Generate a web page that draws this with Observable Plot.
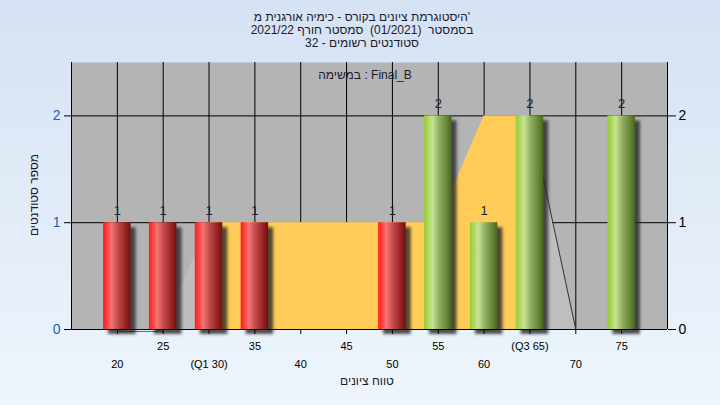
<!DOCTYPE html>
<html><head><meta charset="utf-8">
<script src="https://cdn.jsdelivr.net/npm/d3@7"></script>
<script src="https://cdn.jsdelivr.net/npm/@observablehq/plot@0.6"></script>
<style>
body{margin:0;}
#c{width:720px;height:405px;background:linear-gradient(#d5e2f3,#eef5fc);overflow:hidden;}
svg text{white-space:pre;}
</style></head>
<body><div id="c"></div>
<script>
// ---- data ----
const categories = [20,25,30,35,40,45,50,55,60,65,70,75];
const tickLabels = ["20","25","(Q1 30)","35","40","45","50","55","60","(Q3 65)","70","75"];
const areaValues = [0,0,1,1,1,1,1,1,2,2,0,0];
const barGrades = [20,25,30,35,50,55,60,65,75];
const barCounts = [1,1,1,1,1,2,1,2,2];
const barPass   = [false,false,false,false,false,true,true,true,true];
const q1 = 30, q3 = 65;
const titleLines = ["היסטוגרמת ציונים בקורס - כימיה אורגנית מ'", "בסמסטר  (01/2021)  סמסטר חורף 2021/22", "סטודנטים רשומים - 32"];
const taskLabel = "במשימה : Final_B";
const xTitle = "טווח ציונים";
const yTitle = "מספר סטודנטים";

// ---- tables ----
const area = categories.map((g,i)=>({g, v: areaValues[i]}));
const bars = barGrades.map((g,i)=>({g, n: barCounts[i], pass: barPass[i]}));
const halfW = 1.5;
const fmt = d => tickLabels[categories.indexOf(d)];
const odd = categories.filter((d,i)=>i%2===1);
const even = categories.filter((d,i)=>i%2===0);
const FONT = "'Liberation Sans', Arial, sans-serif";

const chart = Plot.plot({
  width:720, height:405,
  marginLeft:71, marginRight:53, marginTop:62, marginBottom:76,
  style:{background:"transparent", fontFamily:FONT, color:"#000"},
  x:{type:"linear", domain:[15,80]},
  y:{domain:[0,2.5]},
  marks:[
    Plot.frame({fill:"#b4b4b4", stroke:null}),
    Plot.gridX(categories, {stroke:"#000", strokeOpacity:1}),
    Plot.gridY([1,2], {stroke:"#000", strokeOpacity:1}),
    Plot.areaY(area, {x:"g", y:"v", fill:"#bebebe"}),
    Plot.areaY(area.filter(d=>d.g>=q1 && d.g<=q3), {x:"g", y:"v", fill:"#ffcd57"}),
    Plot.lineY(area.filter(d=>d.g>=q3), {x:"g", y:"v", stroke:"#333", strokeWidth:1}),
    Plot.lineY(area.filter(d=>d.g<=25), {x:"g", y:"v", stroke:"#666", strokeWidth:1, dy:2}),
    Plot.rectY(bars, {x1:d=>d.g-halfW, x2:d=>d.g+halfW, y1:0, y2:"n", fill:"#262626", fillOpacity:0.8, dx:5, dy:5}),
    Plot.rectY(bars.filter(d=>!d.pass), {x1:d=>d.g-halfW, x2:d=>d.g+halfW, y1:0, y2:"n", fill:"url(#gRed)"}),
    Plot.rectY(bars.filter(d=>d.pass), {x1:d=>d.g-halfW, x2:d=>d.g+halfW, y1:0, y2:"n", fill:"url(#gGreen)"}),
    Plot.text(bars, {x:"g", y:"n", text:d=>String(d.n), dy:-12, fontSize:13, fill:"#1c1c34"}),
    Plot.ruleX([15,80], {stroke:"#000"}),
    Plot.ruleY([0], {stroke:"#000"}),
    Plot.axisY([0,1,2], {anchor:"left", tickSize:7, tickPadding:4, fontSize:14, fill:"#1f5fae", tickFormat:d=>String(d), label:null}),
    Plot.axisY([0,1,2], {anchor:"right", tickSize:8, tickPadding:3, fontSize:14, tickFormat:d=>String(d), label:null}),
    Plot.axisX(categories, {anchor:"bottom", tickSize:5, tickFormat:()=>"", label:null}),
    Plot.axisX(odd, {anchor:"bottom", tickSize:0, tickPadding:13, tickFormat:fmt, fontSize:11, label:null}),
    Plot.axisX(even, {anchor:"bottom", tickSize:0, tickPadding:31, tickFormat:fmt, fontSize:11, label:null})
  ]
});
document.getElementById("c").appendChild(chart);

const svg = d3.select(chart);
const defs = svg.insert("defs", ":first-child");
function grad(id, stops){
  const g = defs.append("linearGradient").attr("id", id).attr("x1","0").attr("x2","1").attr("y1","0").attr("y2","0");
  stops.forEach(([o,c])=>g.append("stop").attr("offset",o).attr("stop-color",c));
}
grad("gRed", [["0%","#ff1c1c"],["12%","#ff3a3a"],["30%","#f47474"],["55%","#c04848"],["80%","#9a2424"],["100%","#701010"]]);
grad("gGreen", [["0%","#98cc34"],["12%","#a8d456"],["30%","#c8e495"],["55%","#90ad60"],["80%","#6a8a3a"],["100%","#4a6420"]]);
const blur = defs.append("filter").attr("id","blur").attr("x","-50%").attr("y","-50%").attr("width","200%").attr("height","200%");
blur.append("feGaussianBlur").attr("stdDeviation", 1.8);
svg.selectAll("g").filter(function(){return this.getAttribute("fill")==="#262626";}).attr("filter","url(#blur)");
svg.selectAll("rect").filter(function(){return this.getAttribute("fill")==="#262626";}).attr("filter","url(#blur)");

const T = svg.append("g").attr("font-family", FONT).attr("fill","#1a1a2a");
titleLines.forEach((s,i)=>T.append("text").attr("x",362).attr("y",21+i*13).attr("text-anchor","middle").attr("direction","ltr").attr("font-size",12).text(s));
T.append("text").attr("x",365).attr("y",79).attr("text-anchor","middle").attr("direction","ltr").attr("font-size",12).text(taskLabel);
T.append("text").attr("x",367).attr("y",385).attr("text-anchor","middle").attr("direction","ltr").attr("font-size",12).text(xTitle);
T.append("text").attr("transform","translate(38,195) rotate(-90)").attr("text-anchor","middle").attr("font-size",12).text(yTitle);
</script></body></html>
